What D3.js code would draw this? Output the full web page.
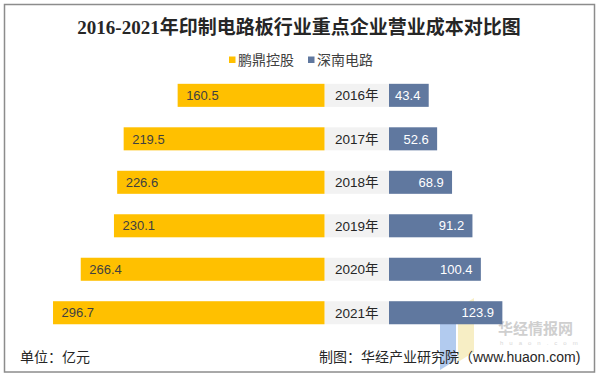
<!DOCTYPE html>
<html><head><meta charset="utf-8">
<script src="https://cdn.jsdelivr.net/npm/d3@7"></script>
<style>
html,body{margin:0;padding:0;background:#fff;}
svg{display:block;}
</style></head>
<body>
<svg id="chart" width="599" height="376"></svg>
<script>
const years = ["2016年","2017年","2018年","2019年","2020年","2021年"];
const pengding = [160.5, 219.5, 226.6, 230.1, 266.4, 296.7];
const shennan = [43.4, 52.6, 68.9, 91.2, 100.4, 123.9];
const seriesNames = ["鹏鼎控股","深南电路"];
const seriesColors = ["#ffc000","#60789f"];
const titleText = "2016-2021年印制电路板行业重点企业营业成本对比图";
const unitText = "单位：亿元";
const sourceText = "制图：华经产业研究院（www.huaon.com)";

const svg = d3.select("#chart");
const cjk = "'Liberation Sans','Noto Sans CJK SC',sans-serif";

// border
svg.append("rect").attr("x",4.5).attr("y",4.5).attr("width",590).attr("height",367.5)
  .attr("fill","#fff").attr("stroke","#8c8c8c").attr("stroke-width",1.5);

// title
svg.append("text").attr("x",299).attr("y",34).attr("text-anchor","middle")
  .attr("font-family","'Liberation Serif','Noto Sans CJK SC',serif").attr("font-weight","bold")
  .attr("font-size",19).attr("fill","#262626").text(titleText);

// legend
const legendX = [229, 308];
seriesNames.forEach((n,i)=>{
  svg.append("rect").attr("x",legendX[i]).attr("y",56.5).attr("width",6.5).attr("height",6.5).attr("fill",seriesColors[i]);
  svg.append("text").attr("x",legendX[i]+9).attr("y",60).attr("dy","0.36em")
    .attr("font-family",cjk).attr("font-size",14).attr("fill","#404040").text(n);
});

// scales
const leftEdge = 324.5, rightStart = 389;
const len = d3.scaleLinear().domain([0,300]).range([0,274.5]);
const y = d3.scaleBand().domain(years).range([73.6, 73.6+6*43.48]).paddingInner(0.47).paddingOuter(0.235);

// watermark (drawn beneath marks)
const wm = svg.append("g").attr("opacity",0.6);
wm.append("path").attr("d","M440,320 L456,309 L456,360 L440,370 Z").attr("fill","#7fa9e6");
wm.append("path").attr("d","M458,308 L474,298 L474,352 L458,362 Z").attr("fill","#f3e3a0");
wm.append("text").attr("x",498).attr("y",334)
  .attr("font-family","'Noto Sans CJK SC',sans-serif").attr("font-weight","bold").attr("font-size",15)
  .attr("fill","#b0b0b0").text("华经情报网");
wm.append("text").attr("x",500).attr("y",345)
  .attr("font-family","'Liberation Sans',sans-serif").attr("font-size",6)
  .attr("letter-spacing","6").attr("fill","#bdbdbd").text("huaon.com");

// gray centre bands
svg.append("g").selectAll("rect").data(years).join("rect")
  .attr("x",leftEdge).attr("y",d=>y(d)).attr("width",rightStart-leftEdge).attr("height",y.bandwidth())
  .attr("fill","#f2f2f2");

// left bars
svg.append("g").selectAll("rect").data(pengding).join("rect")
  .attr("x",d=>leftEdge-len(d)).attr("y",(d,i)=>y(years[i])).attr("width",d=>len(d)).attr("height",y.bandwidth())
  .attr("fill",seriesColors[0]);
svg.append("g").selectAll("text").data(pengding).join("text")
  .attr("x",d=>leftEdge-len(d)+8.5).attr("y",(d,i)=>y(years[i])+y.bandwidth()/2).attr("dy","0.36em")
  .attr("font-family",cjk).attr("font-size",13).attr("fill","#404040").text(d=>d.toFixed(1));

// right bars
svg.append("g").selectAll("rect").data(shennan).join("rect")
  .attr("x",rightStart).attr("y",(d,i)=>y(years[i])).attr("width",d=>len(d)).attr("height",y.bandwidth())
  .attr("fill",seriesColors[1]);
svg.append("g").selectAll("text").data(shennan).join("text")
  .attr("x",d=>rightStart+len(d)-8.3).attr("y",(d,i)=>y(years[i])+y.bandwidth()/2).attr("dy","0.36em")
  .attr("text-anchor","end")
  .attr("font-family",cjk).attr("font-size",13).attr("fill","#ffffff").text(d=>d.toFixed(1));

// year labels
svg.append("g").selectAll("text").data(years).join("text")
  .attr("x",(leftEdge+rightStart)/2).attr("y",d=>y(d)+y.bandwidth()/2).attr("dy","0.36em")
  .attr("text-anchor","middle")
  .attr("font-family",cjk).attr("font-size",13.5).attr("fill","#262626").text(d=>d);

// footer
svg.append("text").attr("x",20).attr("y",357).attr("dy","0.36em")
  .attr("font-family",cjk).attr("font-size",14).attr("fill","#262626").text(unitText);
svg.append("text").attr("x",319).attr("y",357).attr("dy","0.36em")
  .attr("font-family",cjk).attr("font-size",14).attr("fill","#262626").text(sourceText);
</script>
</body></html>
